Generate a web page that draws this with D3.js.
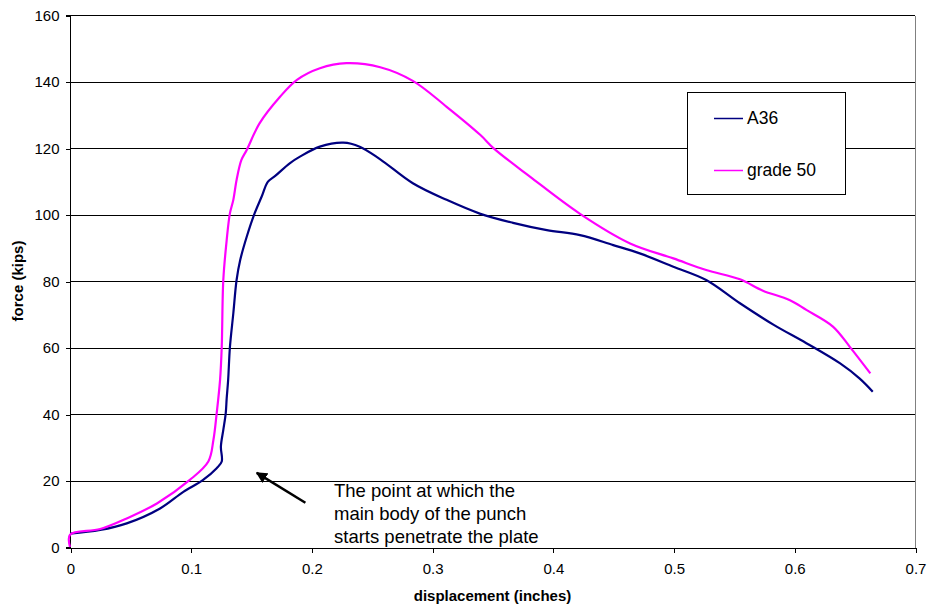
<!DOCTYPE html>
<html>
<head>
<meta charset="utf-8">
<script src="https://cdn.jsdelivr.net/npm/d3@7"></script>
<style>
html,body{margin:0;padding:0;background:#fff;}
svg{display:block;font-family:"Liberation Sans",Arial,sans-serif;}
</style>
</head>
<body>
<svg id="chart" width="927" height="607"></svg>
<script>
// ---- data ----
const xTicks = [0, 0.1, 0.2, 0.3, 0.4, 0.5, 0.6, 0.7];
const yTicks = [0, 20, 40, 60, 80, 100, 120, 140, 160];

const a36X = [0, 0.025, 0.047, 0.0746, 0.0939, 0.110, 0.1215, 0.1257, 0.125, 0.127, 0.129, 0.1298, 0.131, 0.1325, 0.1353, 0.138, 0.141, 0.1464, 0.153, 0.1588, 0.164, 0.170, 0.182, 0.1905, 0.207, 0.2264, 0.240, 0.257, 0.284, 0.312, 0.340, 0.367, 0.395, 0.4225, 0.450, 0.472, 0.4998, 0.527, 0.555, 0.583, 0.610, 0.638, 0.654, 0.665];
const a36Y = [4.0, 5.1, 7.1, 11.6, 16.6, 20.1, 23.7, 25.7, 30.2, 35.2, 40.2, 44.7, 50.2, 60.2, 70.3, 80.3, 86.3, 93.3, 100.4, 105.4, 109.9, 111.6, 115.4, 117.4, 120.4, 121.6, 120.4, 116.6, 109.4, 104.4, 100.2, 97.5, 95.3, 93.8, 90.8, 88.3, 84.3, 80.3, 73.3, 66.8, 61.3, 55.2, 50.7, 46.7];

const g50X = [0, 0, 0.025, 0.047, 0.072, 0.099, 0.1146, 0.1188, 0.1215, 0.1243, 0.1257, 0.127, 0.1298, 0.1325, 0.1353, 0.138, 0.142, 0.1464, 0.157, 0.174, 0.188, 0.207, 0.229, 0.257, 0.284, 0.312, 0.340, 0.351, 0.381, 0.4225, 0.464, 0.4998, 0.527, 0.555, 0.574, 0.596, 0.610, 0.632, 0.646, 0.663];
const g50Y = [0, 3.7, 5.4, 8.6, 13.1, 20.1, 25.7, 32.2, 40.2, 50.2, 60.2, 80.3, 92.3, 100.4, 104.4, 110.4, 116.4, 119.4, 127.4, 135.4, 140.5, 144.0, 145.5, 144.3, 140.2, 132.4, 123.9, 119.9, 111.4, 100.2, 91.3, 86.8, 83.3, 80.5, 77.1, 74.3, 71.3, 66.3, 60.2, 52.2];

const seriesNames = ["A36", "grade 50"];
const seriesColors = ["#000080", "#FF00FF"];

const noteLines = ["The point at which the", "main body of the punch", "starts penetrate the plate"];
const noteAt = [0.2187, 15.0];      // first baseline of note text (data coords)
const arrowTail = [0.195, 13.3];    // data coords
const arrowTip = [0.1547, 22.3];    // data coords

const xTitle = "displacement (inches)";
const yTitle = "force (kips)";

// ---- layout ----
const svg = d3.select("#chart");
const L = 70, R = 915, T = 15, B = 547;
const x = d3.scaleLinear().domain([0, 0.7]).range([L, R]);
const y = d3.scaleLinear().domain([0, 160]).range([B, T]);
const snap = v => Math.round(v) + 0.5;

// gridlines
svg.append("g").selectAll("line").data(yTicks.filter(d => d > 0)).join("line")
  .attr("x1", L).attr("x2", R)
  .attr("y1", d => snap(y(d))).attr("y2", d => snap(y(d)))
  .attr("stroke", "#000").attr("stroke-width", 1).attr("shape-rendering", "crispEdges");

// right border
svg.append("line").attr("x1", snap(R)).attr("x2", snap(R)).attr("y1", snap(y(160))).attr("y2", snap(B))
  .attr("stroke", "#808080").attr("shape-rendering", "crispEdges");

// axes
const yAxis = d3.axisLeft(y).tickValues(yTicks).tickSize(5).tickPadding(6).tickFormat(d3.format("d"));
const gy = svg.append("g").attr("transform", `translate(${snap(L)},0.5)`).call(yAxis);
const xAxis = d3.axisBottom(x).tickValues(xTicks).tickSize(5).tickPadding(11).tickFormat(d => d === 0 ? "0" : d3.format(".1f")(d));
const gx = svg.append("g").attr("transform", `translate(0.5,${snap(B)})`).call(xAxis);
[gx, gy].forEach(g => {
  g.select(".domain").attr("stroke", "#000").attr("shape-rendering", "crispEdges");
  g.selectAll(".tick line").attr("stroke", "#000").attr("shape-rendering", "crispEdges");
  g.selectAll("text").attr("font-size", 15).attr("fill", "#000").attr("font-family", "Liberation Sans, Arial, sans-serif");
});
gy.select(".domain").attr("d", `M-5,${Math.round(T)}H0V${Math.round(B)}H-5`);

// lines
const line = d3.line().x(d => x(d[0])).y(d => y(d[1])).curve(d3.curveCatmullRom.alpha(0.5));
const a36 = a36X.map((v, i) => [v, a36Y[i]]);
const g50 = g50X.map((v, i) => [v, g50Y[i]]);
[[a36, 0], [g50, 1]].forEach(([data, i]) => {
  svg.append("path").datum(data).attr("d", line)
    .attr("fill", "none").attr("stroke", seriesColors[i]).attr("stroke-width", 2.2)
    .attr("stroke-linejoin", "round");
});

// legend
const lg = svg.append("g");
lg.append("rect").attr("x", 687.5).attr("y", 92.5).attr("width", 158).attr("height", 102)
  .attr("fill", "#fff").attr("stroke", "#000").attr("stroke-width", 1);
seriesNames.forEach((n, i) => {
  const yy = 118 + i * 52;
  lg.append("line").attr("x1", 714).attr("x2", 743).attr("y1", yy + 0.5).attr("y2", yy + 0.5)
    .attr("stroke", seriesColors[i]).attr("stroke-width", 1.5);
  lg.append("text").attr("x", 747).attr("y", yy + 6).attr("font-size", 17.5).attr("fill", "#000").text(n);
});

// axis titles
svg.append("text").attr("x", (L + R) / 2).attr("y", 601).attr("text-anchor", "middle")
  .attr("font-size", 15).attr("font-weight", "bold").text(xTitle);
svg.append("text").attr("transform", `translate(23,${(T + B) / 2}) rotate(-90)`).attr("text-anchor", "middle")
  .attr("font-size", 15).attr("font-weight", "bold").text(yTitle);

// annotation
svg.append("defs").append("marker").attr("id", "ah").attr("viewBox", "0 0 10 10")
  .attr("refX", 9).attr("refY", 5).attr("markerWidth", 4.5).attr("markerHeight", 4.5).attr("orient", "auto")
  .append("path").attr("d", "M0,0L10,5L0,10z").attr("fill", "#000");
svg.append("line").attr("x1", x(arrowTail[0])).attr("y1", y(arrowTail[1]))
  .attr("x2", x(arrowTip[0])).attr("y2", y(arrowTip[1]))
  .attr("stroke", "#000").attr("stroke-width", 2.5).attr("marker-end", "url(#ah)");
const nt = svg.append("text").attr("font-size", 18.5).attr("fill", "#000");
noteLines.forEach((t, i) => {
  nt.append("tspan").attr("x", x(noteAt[0])).attr("y", y(noteAt[1]) + i * 23).text(t);
});
</script>
</body>
</html>
